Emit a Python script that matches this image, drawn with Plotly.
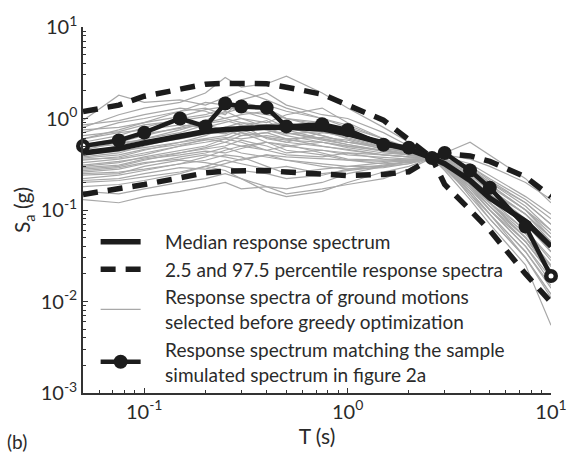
import plotly.graph_objects as go

PERIODS = [0.05, 0.075, 0.1, 0.15, 0.2, 0.25, 0.3, 0.4, 0.5, 0.75, 1.0, 1.5, 2.0, 2.6, 3.0, 4.0, 5.0, 7.5, 10.0]

MEDIAN = [0.42, 0.47, 0.54, 0.64, 0.72, 0.76, 0.78, 0.80, 0.80, 0.77, 0.68, 0.54, 0.46, 0.37, 0.32, 0.21, 0.135, 0.075, 0.04]
P975 = [1.19, 1.40, 1.75, 2.12, 2.37, 2.42, 2.42, 2.40, 2.20, 1.84, 1.40, 0.96, 0.585, 0.37, 0.41, 0.39, 0.34, 0.23, 0.14]
P025 = [0.148, 0.168, 0.19, 0.225, 0.255, 0.266, 0.27, 0.27, 0.26, 0.245, 0.238, 0.245, 0.262, 0.37, 0.19, 0.10, 0.06, 0.02, 0.0098]
MATCH = [0.50, 0.576, 0.70, 1.00, 0.82, 1.46, 1.35, 1.31, 0.82, 0.865, 0.75, 0.516, 0.48, 0.37, 0.42, 0.27, 0.175, 0.066, 0.019]

GROUND_MOTIONS = [
    [0.95, 1.8, 1.5, 1.6, 1.4, 1.7, 2.0, 1.6, 1.3, 1.0, 0.8, 0.6, 0.48, 0.37, 0.40, 0.36, 0.30, 0.20, 0.13],
    [0.80, 1.1, 1.3, 1.5, 1.9, 2.8, 2.2, 2.4, 2.9, 1.9, 1.3, 0.8, 0.55, 0.37, 0.35, 0.28, 0.20, 0.12, 0.07],
    [0.60, 0.75, 0.9, 1.2, 1.3, 1.1, 1.6, 1.9, 1.4, 1.1, 1.0, 0.7, 0.50, 0.37, 0.33, 0.22, 0.15, 0.08, 0.045],
    [0.45, 0.55, 0.65, 0.8, 0.95, 1.2, 1.0, 0.9, 1.1, 1.3, 0.9, 0.6, 0.46, 0.37, 0.30, 0.18, 0.11, 0.05, 0.025],
    [0.38, 0.42, 0.5, 0.62, 0.75, 0.7, 0.85, 0.6, 0.55, 0.7, 0.65, 0.5, 0.42, 0.37, 0.32, 0.20, 0.12, 0.06, 0.03],
    [0.30, 0.33, 0.38, 0.45, 0.5, 0.6, 0.55, 0.45, 0.4, 0.38, 0.42, 0.4, 0.38, 0.37, 0.28, 0.15, 0.09, 0.035, 0.015],
    [0.25, 0.26, 0.28, 0.32, 0.35, 0.4, 0.38, 0.3, 0.25, 0.28, 0.3, 0.33, 0.35, 0.37, 0.30, 0.17, 0.10, 0.04, 0.018],
    [0.20, 0.21, 0.23, 0.26, 0.3, 0.27, 0.22, 0.18, 0.17, 0.2, 0.25, 0.3, 0.34, 0.37, 0.34, 0.25, 0.16, 0.09, 0.05],
    [0.16, 0.15, 0.17, 0.2, 0.22, 0.25, 0.22, 0.16, 0.14, 0.16, 0.2, 0.26, 0.3, 0.37, 0.42, 0.55, 0.40, 0.22, 0.12],
    [0.13, 0.12, 0.14, 0.16, 0.18, 0.2, 0.17, 0.18, 0.15, 0.17, 0.19, 0.22, 0.28, 0.37, 0.31, 0.14, 0.08, 0.03, 0.012],
    [0.55, 0.65, 0.8, 1.0, 1.1, 1.3, 1.5, 1.3, 1.0, 0.8, 0.7, 0.55, 0.45, 0.37, 0.29, 0.16, 0.09, 0.03, 0.012],
    [0.70, 0.9, 1.0, 1.2, 1.5, 1.4, 1.2, 1.0, 0.8, 0.65, 0.55, 0.5, 0.45, 0.37, 0.35, 0.27, 0.19, 0.10, 0.06],
    [0.42, 0.5, 0.6, 0.75, 0.9, 1.0, 1.1, 1.2, 1.0, 0.9, 0.75, 0.55, 0.45, 0.37, 0.33, 0.24, 0.16, 0.08, 0.04],
    [0.35, 0.38, 0.45, 0.55, 0.65, 0.8, 0.9, 0.75, 0.65, 0.55, 0.5, 0.45, 0.40, 0.37, 0.31, 0.19, 0.12, 0.05, 0.02],
    [0.28, 0.3, 0.35, 0.42, 0.48, 0.55, 0.65, 0.7, 0.6, 0.5, 0.45, 0.4, 0.38, 0.37, 0.30, 0.18, 0.10, 0.04, 0.016],
    [0.50, 0.55, 0.58, 0.62, 0.7, 0.8, 0.7, 0.55, 0.5, 0.45, 0.42, 0.36, 0.33, 0.37, 0.36, 0.30, 0.22, 0.13, 0.08],
    [0.33, 0.36, 0.4, 0.5, 0.6, 0.55, 0.5, 0.45, 0.5, 0.55, 0.5, 0.44, 0.4, 0.37, 0.27, 0.13, 0.07, 0.025, 0.0055],
    [0.22, 0.24, 0.27, 0.32, 0.38, 0.45, 0.5, 0.55, 0.45, 0.4, 0.35, 0.32, 0.33, 0.37, 0.33, 0.22, 0.14, 0.07, 0.035],
    [0.40, 0.44, 0.48, 0.55, 0.6, 0.65, 0.75, 0.85, 0.9, 0.75, 0.6, 0.48, 0.42, 0.37, 0.34, 0.26, 0.17, 0.09, 0.045],
    [0.60, 0.7, 0.75, 0.85, 0.8, 0.9, 1.0, 0.8, 0.75, 0.6, 0.52, 0.45, 0.41, 0.37, 0.32, 0.21, 0.13, 0.06, 0.028],
    [0.26, 0.28, 0.32, 0.38, 0.42, 0.48, 0.42, 0.38, 0.35, 0.32, 0.3, 0.3, 0.32, 0.37, 0.38, 0.32, 0.24, 0.14, 0.09],
    [0.85, 0.95, 1.1, 1.3, 1.2, 1.0, 0.9, 0.85, 0.7, 0.6, 0.55, 0.5, 0.44, 0.37, 0.30, 0.17, 0.10, 0.045, 0.02],
    [0.48, 0.52, 0.6, 0.7, 0.85, 0.75, 0.65, 0.7, 0.8, 0.65, 0.55, 0.47, 0.43, 0.37, 0.31, 0.20, 0.12, 0.055, 0.025],
    [0.18, 0.19, 0.21, 0.25, 0.3, 0.35, 0.32, 0.28, 0.3, 0.25, 0.27, 0.3, 0.34, 0.37, 0.33, 0.23, 0.15, 0.075, 0.04],
    [0.37, 0.4, 0.46, 0.52, 0.58, 0.62, 0.6, 0.65, 0.6, 0.62, 0.58, 0.46, 0.41, 0.37, 0.32, 0.19, 0.11, 0.045, 0.02],
    [0.31, 0.34, 0.37, 0.42, 0.46, 0.5, 0.58, 0.5, 0.42, 0.45, 0.4, 0.38, 0.36, 0.37, 0.35, 0.27, 0.18, 0.10, 0.055],
    [0.65, 0.72, 0.85, 0.95, 1.05, 1.15, 1.3, 1.4, 1.2, 1.0, 0.85, 0.6, 0.46, 0.37, 0.32, 0.22, 0.14, 0.07, 0.035],
    [0.24, 0.25, 0.3, 0.35, 0.33, 0.3, 0.27, 0.25, 0.22, 0.24, 0.28, 0.31, 0.34, 0.37, 0.36, 0.30, 0.21, 0.12, 0.07],
    [0.44, 0.48, 0.55, 0.68, 0.72, 0.68, 0.8, 0.95, 0.7, 0.58, 0.52, 0.44, 0.4, 0.37, 0.29, 0.15, 0.08, 0.03, 0.011],
    [0.52, 0.6, 0.68, 0.78, 0.88, 0.95, 0.85, 0.75, 0.68, 0.72, 0.62, 0.5, 0.43, 0.37, 0.34, 0.25, 0.17, 0.09, 0.05],
    [0.29, 0.31, 0.36, 0.4, 0.44, 0.42, 0.47, 0.55, 0.52, 0.42, 0.36, 0.35, 0.36, 0.37, 0.31, 0.18, 0.11, 0.045, 0.02],
    [0.36, 0.37, 0.42, 0.5, 0.55, 0.6, 0.7, 0.62, 0.55, 0.5, 0.46, 0.4, 0.38, 0.37, 0.36, 0.29, 0.20, 0.11, 0.06],
    [0.21, 0.22, 0.25, 0.29, 0.28, 0.32, 0.36, 0.4, 0.35, 0.3, 0.28, 0.29, 0.32, 0.37, 0.30, 0.16, 0.09, 0.035, 0.014],
    [0.75, 0.8, 0.9, 1.05, 1.25, 1.35, 1.2, 1.1, 1.0, 0.85, 0.7, 0.52, 0.45, 0.37, 0.31, 0.19, 0.12, 0.05, 0.022],
    [0.41, 0.45, 0.52, 0.6, 0.68, 0.72, 0.75, 0.62, 0.58, 0.55, 0.48, 0.42, 0.4, 0.37, 0.35, 0.28, 0.19, 0.10, 0.05],
    [0.27, 0.29, 0.33, 0.36, 0.4, 0.38, 0.35, 0.4, 0.38, 0.36, 0.35, 0.34, 0.35, 0.37, 0.32, 0.20, 0.12, 0.05, 0.024],
]

X_TICKS = [0.1, 1, 10]
X_TICK_TEXT = ["10<sup>-1</sup>", "10<sup>0</sup>", "10<sup>1</sup>"]
Y_TICKS = [0.001, 0.01, 0.1, 1, 10]
Y_TICK_TEXT = ["10<sup>-3</sup>", "10<sup>-2</sup>", "10<sup>-1</sup>", "10<sup>0</sup>", "10<sup>1</sup>"]
X_MINOR = [0.06, 0.07, 0.08, 0.09, 0.2, 0.3, 0.4, 0.5, 0.6, 0.7, 0.8, 0.9, 2, 3, 4, 5, 6, 7, 8, 9]
Y_MINOR = [m * d for d in [0.001, 0.01, 0.1, 1] for m in [2, 3, 4, 5, 6, 7, 8, 9]]

GAP = "&nbsp;" * 4
LABEL_MEDIAN = GAP + "Median response spectrum"
LABEL_PCT = GAP + "2.5 and 97.5 percentile response spectra"
LABEL_GM = GAP + "Response spectra of ground motions<br>" + GAP + "selected before greedy optimization"
LABEL_MATCH = GAP + "Response spectrum matching the sample<br>" + GAP + "simulated spectrum in figure 2a"

BLACK = "#1c1c1c"
GREY = "#a8a8a8"
TEXT = "#2a2a2a"
FONT = "Lato"

fig = go.Figure()

for i, gm in enumerate(GROUND_MOTIONS):
    fig.add_trace(go.Scatter(
        x=PERIODS, y=gm, mode="lines",
        line=dict(color=GREY, width=1.2),
        name=LABEL_GM, legendgroup="gm", showlegend=(i == 0), legendrank=3,
        hoverinfo="skip",
    ))

for j, pct in enumerate([P975, P025]):
    fig.add_trace(go.Scatter(
        x=PERIODS, y=pct, mode="lines",
        line=dict(color=BLACK, width=5.5, dash="15px,10px"),
        name=LABEL_PCT, legendgroup="pct", showlegend=(j == 0), legendrank=2,
    ))

fig.add_trace(go.Scatter(
    x=PERIODS, y=MEDIAN, mode="lines",
    line=dict(color=BLACK, width=5.5),
    name=LABEL_MEDIAN, legendrank=1,
))

fig.add_trace(go.Scatter(
    x=PERIODS, y=MATCH, mode="lines+markers",
    line=dict(color=BLACK, width=4.5),
    marker=dict(color=BLACK, size=14, symbol="circle"),
    name=LABEL_MATCH, legendrank=4, cliponaxis=False,
))

fig.add_trace(go.Scatter(
    x=[PERIODS[0], PERIODS[-1]], y=[MATCH[0], MATCH[-1]], mode="markers",
    marker=dict(color="white", size=5, symbol="circle"),
    showlegend=False, cliponaxis=False, hoverinfo="skip",
))

axis_common = dict(
    type="log", showgrid=False, zeroline=False,
    showline=True, linecolor="#333333", linewidth=1.5,
    ticks="inside", ticklen=5, tickwidth=1.2, tickcolor="#333333",
    tickfont=dict(family=FONT, size=20, color=TEXT),
    mirror=False,
)

fig.update_layout(
    width=579, height=465,
    margin=dict(l=83, r=22, t=23, b=72),
    paper_bgcolor="white", plot_bgcolor="white",
    font=dict(family=FONT, size=19, color=TEXT),
    showlegend=True,
    legend=dict(
        x=0.027, y=0.465, xanchor="left", yanchor="top",
        bgcolor="rgba(0,0,0,0)", borderwidth=0,
        font=dict(family=FONT, size=19, color=TEXT),
        itemwidth=40, tracegroupgap=0,
    ),
    xaxis=dict(
        **axis_common,
        range=[-1.30103, 1],
        tickmode="array", tickvals=X_TICKS, ticktext=X_TICK_TEXT,
        minor=dict(ticks="inside", ticklen=3, tickwidth=1, tickcolor="#333333", tickvals=X_MINOR),
        title=dict(text="T (s)", font=dict(family=FONT, size=21, color=TEXT), standoff=6),
    ),
    yaxis=dict(
        **axis_common,
        range=[-3, 1],
        tickmode="array", tickvals=Y_TICKS, ticktext=Y_TICK_TEXT,
        minor=dict(ticks="inside", ticklen=3, tickwidth=1, tickcolor="#333333", tickvals=Y_MINOR),
        title=dict(text="S<sub>a</sub> (g)", font=dict(family=FONT, size=21, color=TEXT), standoff=4),
    ),
    annotations=[dict(
        text="(b)", xref="paper", yref="paper", x=-0.167, y=-0.095,
        xanchor="left", yanchor="top", showarrow=False,
        font=dict(family=FONT, size=19, color=TEXT),
    )],
)

fig.write_html("out.html")
